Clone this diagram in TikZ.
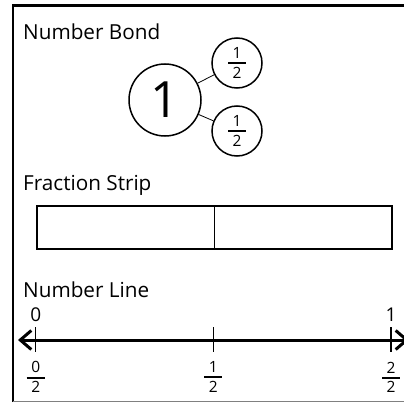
\documentclass[tikz,border=0pt]{standalone}
\usepackage{fontspec}
\setmainfont{Open Sans}
\usetikzlibrary{arrows.meta}
\newcommand{\fr}[2]{\vbox{\offinterlineskip\halign{\hfil##\hfil\cr #1\cr\noalign{\kern3.5pt}\vrule width 18pt height 2pt depth 0pt\cr\noalign{\kern2.5pt}#2\cr}}}
\begin{document}
\begin{tikzpicture}[x=1pt,y=-1pt,
  heading/.style={anchor=base west,inner sep=0pt,font=\fontsize{20.7}{24}\selectfont},
  bigbond/.style={circle,draw,line width=1.5pt,minimum size=72pt,inner sep=0pt,font=\fontsize{50}{50}\selectfont},
  smallbond/.style={circle,draw,line width=1.5pt,minimum size=50pt,inner sep=0pt,font=\fontsize{15.5}{18}\selectfont},
  bondline/.style={line width=0.8pt},
  tickline/.style={line width=1.4pt},
  fraclabel/.style={inner sep=0pt,font=\fontsize{15.5}{18}\selectfont},
  numlabel/.style={inner sep=0pt,font=\fontsize{19}{20}\selectfont}]
\useasboundingbox (0,0) rectangle (404,404);
% frame
\draw[line width=2.5pt] (13,402) -- (13,5.7) -- (412,5.7);
\draw[gray,line width=0.8pt] (13,401) -- (412,401);
% number bond
\node[heading] (t1) at (23,40) {Number Bond};
\node[bigbond] (one) at (165,100) {1};
\node[smallbond] (h1) at (237,63) {\fr12};
\node[smallbond] (h2) at (237,131) {\fr12};
\draw[bondline] (one) -- (h1);
\draw[bondline] (one) -- (h2);
% fraction strip
\node[heading] (t2) at (23,190) {Fraction Strip};
\node[draw,line width=1.6pt,minimum width=355pt,minimum height=43pt,inner sep=0pt,anchor=north west] (strip) at (36,205) {};
\draw[line width=1.6pt] (strip.north) -- (strip.south);
% number line
\node[heading] (t3) at (23,297) {Number Line};
\coordinate (L) at (18,340);
\coordinate (R) at (409,340);
\draw[line width=3pt,{Straight Barb[length=11pt,width=19pt,line width=3pt]}-{Straight Barb[length=11pt,width=19pt,line width=3pt]}] (L) -- (R);
\coordinate (a0) at (35.7,327); \coordinate (b0) at (35.7,352);
\coordinate (a1) at (213.3,327); \coordinate (b1) at (213.3,352);
\coordinate (a2) at (391,327); \coordinate (b2) at (391,352);
\draw[tickline] (a0) -- (b0);
\draw[tickline] (a1) -- (b1);
\draw[tickline] (a2) -- (b2);
\node[numlabel] (n0) at (35.7,315) {0};
\node[numlabel] (n1) at (391,315) {1};
\node[fraclabel] (f0) at (35.7,377) {\fr02};
\node[fraclabel] (f1) at (213.3,377) {\fr12};
\node[fraclabel] (f2) at (391,377) {\fr22};
\end{tikzpicture}
\end{document}
